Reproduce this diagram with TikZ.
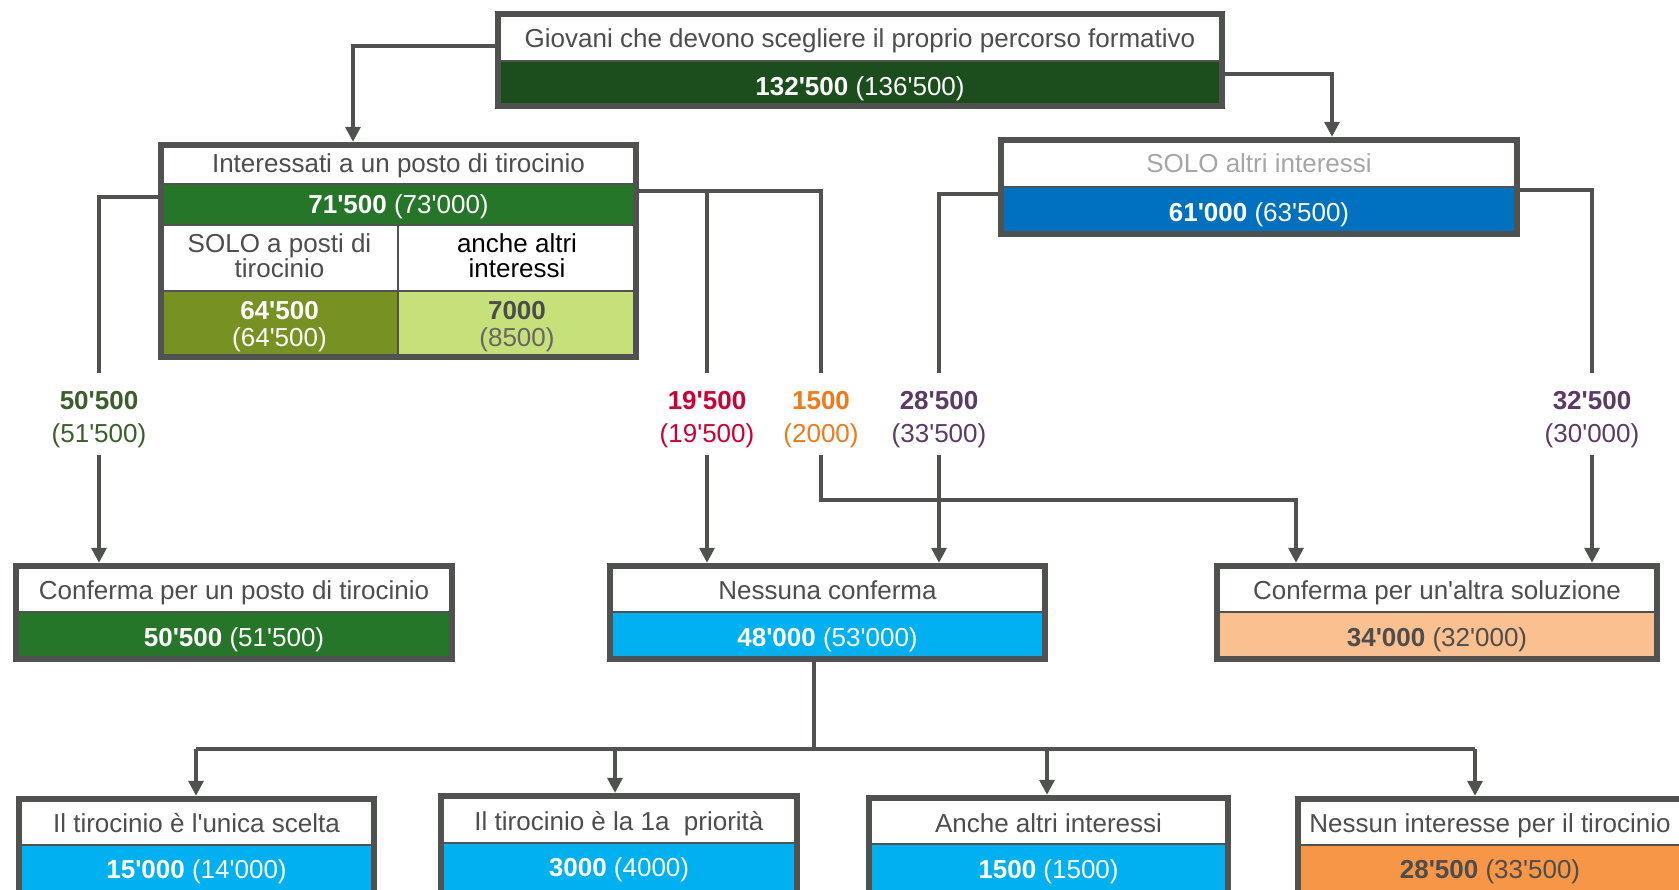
\documentclass[tikz,border=0pt]{standalone}
\usepackage{fontspec}
\newfontfamily\lsans{Liberation Sans}
\usetikzlibrary{arrows.meta,fit}
\definecolor{bordergray}{RGB}{79,82,79}
\definecolor{txtgray}{RGB}{77,77,77}
\definecolor{dkgreen}{RGB}{28,77,28}
\definecolor{mgreen}{RGB}{38,118,42}
\definecolor{olive}{RGB}{119,146,34}
\definecolor{ltgreen}{RGB}{198,224,122}
\definecolor{blueone}{RGB}{0,112,192}
\definecolor{cyanone}{RGB}{0,176,240}
\definecolor{peach}{RGB}{250,192,144}
\definecolor{orangeone}{RGB}{247,150,70}
\definecolor{lblgreen}{RGB}{59,94,43}
\definecolor{lblred}{RGB}{204,0,51}
\definecolor{lblorange}{RGB}{240,122,26}
\definecolor{lblpurple}{RGB}{91,58,99}
\definecolor{ltgraytxt}{RGB}{166,166,166}
\newcommand\mkbox[7]{%
  \fill[white] (#2,#3) rectangle (#4,#5);
  \fill[#7] (#2,#5) rectangle (#4,#6);
  \draw[divider] (#2,#5) -- (#4,#5);
  \draw[border] (#2,#3) rectangle (#4,#6);
  \node[boxfit, fit={(#2,#3) (#4,#6)}] (#1) {};
}
\begin{document}
\begin{tikzpicture}[x=1pt,y=-1pt,
  txt/.style={font=\lsans\fontsize{26}{30}\selectfont, inner sep=0pt, text=txtgray,
    text height=18.6pt, text depth=0pt, anchor=center},
  border/.style={draw=bordergray, line width=6pt},
  divider/.style={draw=bordergray, line width=2.5pt},
  conn/.style={draw=bordergray, line width=3.3pt},
  arr/.style={conn, -{Triangle[length=15pt,width=15pt]}},
  boxfit/.style={inner sep=3pt, draw=none},
]
\useasboundingbox (0,0) rectangle (1679,890);
\clip (0,0) rectangle (1679,890);

% ---------- top box ----------
\mkbox{top}{498}{14}{1222}{61}{106}{dkgreen}
\node[txt] (topT) at (860,38) {Giovani che devono scegliere il proprio percorso formativo};
\node[txt, text=white] (topV) at (860,86) {\textbf{132'500} (136'500)};

% ---------- Interessati ----------
\fill[white] (161,145) rectangle (636,184);
\fill[mgreen] (161,184) rectangle (636,225);
\fill[white] (161,225) rectangle (636,291);
\fill[olive] (161,291) rectangle (398,357);
\fill[ltgreen] (398,291) rectangle (636,357);
\draw[divider] (161,184) -- (636,184);
\draw[divider] (161,225) -- (636,225);
\draw[divider] (161,291) -- (636,291);
\draw[divider] (398,225) -- (398,357);
\draw[border] (161,145) rectangle (636,357);
\node[boxfit, fit={(161,145) (636,357)}] (int) {};
\node[txt] (intT) at (398.5,163) {Interessati a un posto di tirocinio};
\node[txt, text=white] (intV) at (398.5,204) {\textbf{71'500} (73'000)};
\node[txt] (solA) at (279.5,243) {SOLO a posti di};
\node[txt] (solB) at (279.5,268) {tirocinio};
\node[txt, text=black] (ancA) at (517,243) {anche altri};
\node[txt, text=black] (ancB) at (517,268) {interessi};
\node[txt, text=white] (solV) at (279.5,310) {\textbf{64'500}};
\node[txt, text=white] (solW) at (279.5,337) {(64'500)};
\node[txt, text=black!70] (ancV) at (517,310) {\textbf{7000}};
\node[txt, text=black!60] (ancW) at (517,337) {(8500)};

% ---------- SOLO altri interessi ----------
\mkbox{solo}{1001}{140}{1517}{187}{234}{blueone}
\node[txt, text=ltgraytxt] (soloT) at (1259,163) {SOLO altri interessi};
\node[txt, text=white] (soloV) at (1259,212) {\textbf{61'000} (63'500)};

% ---------- middle row ----------
\mkbox{conf}{16}{566}{452}{612}{659}{mgreen}
\node[txt] (confT) at (234,590) {Conferma per un posto di tirocinio};
\node[txt, text=white] (confV) at (234,637) {\textbf{50'500} (51'500)};

\mkbox{ness}{610}{566}{1045}{612}{659}{cyanone}
\node[txt] (nessT) at (827.5,590) {Nessuna conferma};
\node[txt, text=white] (nessV) at (827.5,637) {\textbf{48'000} (53'000)};

\mkbox{altra}{1217}{566}{1657}{612}{659}{peach}
\node[txt] (altraT) at (1437,590) {Conferma per un'altra soluzione};
\node[txt] (altraV) at (1437,637) {\textbf{34'000} (32'000)};

% ---------- bottom row ----------
\mkbox{bA}{19}{799}{374}{845}{900}{cyanone}
\node[txt] (bAT) at (196.5,823) {Il tirocinio è l'unica scelta};
\node[txt, text=white] (bAV) at (196.5,869) {\textbf{15'000} (14'000)};

\mkbox{bB}{441}{796}{797}{843}{900}{cyanone}
\node[txt] (bBT) at (619,821) {Il tirocinio è la 1a\ \ priorità};
\node[txt, text=white] (bBV) at (619,867) {\textbf{3000} (4000)};

\mkbox{bC}{869}{798}{1228}{844}{900}{cyanone}
\node[txt] (bCT) at (1048.5,823) {Anche altri interessi};
\node[txt, text=white] (bCV) at (1048.5,869) {\textbf{1500} (1500)};

\mkbox{bD}{1298}{799}{1682}{845}{900}{orangeone}
\node[txt] (bDT) at (1490,823) {Nessun interesse per il tirocinio};
\node[txt] (bDV) at (1490,869) {\textbf{28'500} (33'500)};

% ---------- flow labels ----------
\node[txt, text=lblgreen] (l1) at (99,400) {\textbf{50'500}};
\node[txt, text=lblgreen] (l1b) at (99,433) {(51'500)};
\node[txt, text=lblred] (l2) at (707,400) {\textbf{19'500}};
\node[txt, text=lblred] (l2b) at (707,433) {(19'500)};
\node[txt, text=lblorange] (l3) at (821,400) {\textbf{1500}};
\node[txt, text=lblorange] (l3b) at (821,433) {(2000)};
\node[txt, text=lblpurple] (l4) at (939,400) {\textbf{28'500}};
\node[txt, text=lblpurple] (l4b) at (939,433) {(33'500)};
\node[txt, text=lblpurple] (l5) at (1592,400) {\textbf{32'500}};
\node[txt, text=lblpurple] (l5b) at (1592,433) {(30'000)};

% ---------- helper coordinates ----------
\coordinate (y46) at (0,46);
\coordinate (y74) at (0,74);
\coordinate (y197) at (0,197);
\coordinate (y191) at (0,191);
\coordinate (y194) at (0,194);
\coordinate (y190) at (0,190);
\coordinate (xa) at (353,0);
\coordinate (xb) at (1332,0);
\coordinate (g1a) at (99,373);   \coordinate (g1b) at (99,455);
\coordinate (g2a) at (707,373);  \coordinate (g2b) at (707,455);
\coordinate (g3a) at (821,373);  \coordinate (g3b) at (821,455);
\coordinate (g4a) at (939,373);  \coordinate (g4b) at (939,455);
\coordinate (g5a) at (1592,373); \coordinate (g5b) at (1592,455);
\coordinate (bend) at (1296,500);
\coordinate (bus) at (814,749);
\coordinate (busA) at (196,749);
\coordinate (busB) at (615,749);
\coordinate (busC) at (1047,749);
\coordinate (busD) at (1475,749);

% ---------- connectors ----------
\draw[arr] (top.west |- y46) -| (int.north -| xa);
\draw[arr] (top.east |- y74) -| (solo.north -| xb);

\draw[conn] (int.west |- y197) -| (g1a);
\draw[arr] (g1b) -- (g1b |- conf.north);

\draw[conn] (int.east |- y191) -| (g3a);
\draw[conn] (g2a |- y191) -- (g2a);
\draw[arr] (g2b) -- (g2b |- ness.north);
\draw[arr] (g3b) |- (bend) -- (bend |- altra.north);

\draw[conn] (solo.west |- y194) -| (g4a);
\draw[arr] (g4b) -- (g4b |- ness.north);
\draw[conn] (solo.east |- y190) -| (g5a);
\draw[arr] (g5b) -- (g5b |- altra.north);

\draw[conn] (ness.south -| bus) -- (bus);
\draw[conn] (busA) -- (busD);
\draw[arr] (busA) -- (busA |- bA.north);
\draw[arr] (busB) -- (busB |- bB.north);
\draw[arr] (busC) -- (busC |- bC.north);
\draw[arr] (busD) -- (busD |- bD.north);
\end{tikzpicture}
\end{document}
